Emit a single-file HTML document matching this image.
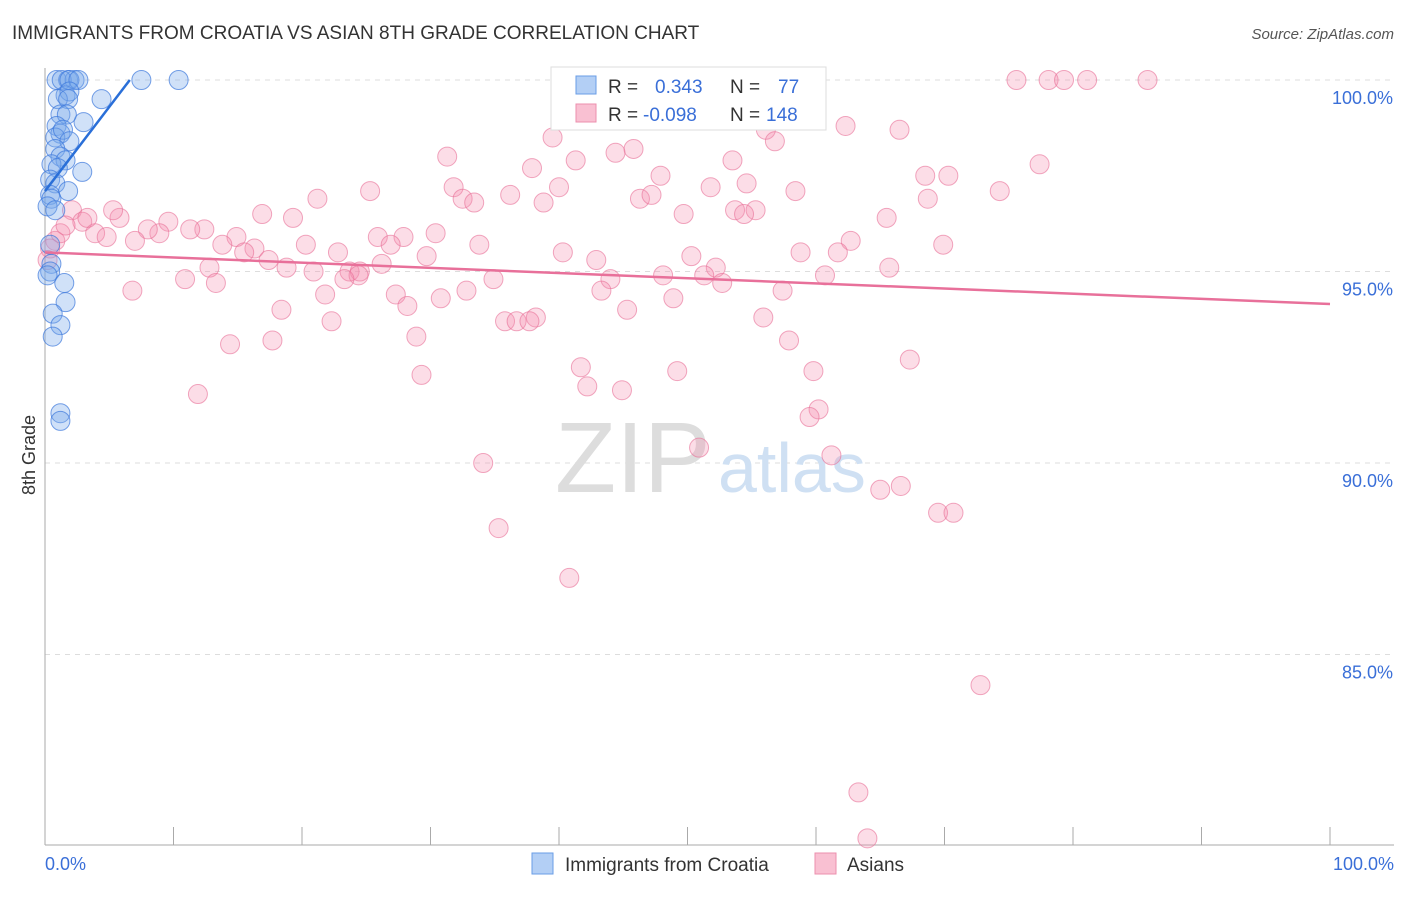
<!DOCTYPE html>
<html><head><meta charset="utf-8"><style>
body{margin:0;background:#fff;font-family:"Liberation Sans",sans-serif}
svg text{font-family:"Liberation Sans",sans-serif}
</style></head><body>
<svg id="c" width="1406" height="892">
<text x="12" y="39" font-size="19" fill="#333">IMMIGRANTS FROM CROATIA VS ASIAN 8TH GRADE CORRELATION CHART</text>
<text x="1394" y="39" font-size="15" fill="#555" font-style="italic" text-anchor="end">Source: ZipAtlas.com</text>
<g id="grid"></g>
<text x="555" y="492" font-size="100" fill="#ddd" font-family="Liberation Serif">ZIP</text>
<text x="718" y="492" font-size="70" fill="#cfe0f3">atlas</text>
<g id="pts"></g>
<text x="35" y="455" font-size="18" fill="#333" transform="rotate(-90 35 455)" text-anchor="middle">8th Grade</text>
<text x="45" y="870" font-size="18" fill="#3a6fd8">0.0%</text>
<text x="1394" y="870" font-size="18" fill="#3a6fd8" text-anchor="end">100.0%</text>
<g>
<rect x="551" y="67" width="275" height="63" fill="#fff" stroke="#ddd"/>
<rect x="576" y="76" width="20" height="18" fill="#b3cff5" stroke="#6a9de6"/>
<rect x="576" y="104" width="20" height="18" fill="#f9c0d2" stroke="#ec8fae"/>
<text x="608" y="93" font-size="19" fill="#333">R =</text><text x="655" y="93" font-size="19" fill="#3a6fd8">0.343</text>
<text x="730" y="93" font-size="19" fill="#333">N =</text><text x="778" y="93" font-size="19" fill="#3a6fd8">77</text>
<text x="608" y="121" font-size="19" fill="#333">R =</text><text x="643" y="121" font-size="19" fill="#3a6fd8">-0.098</text>
<text x="730" y="121" font-size="19" fill="#333">N =</text><text x="766" y="121" font-size="19" fill="#3a6fd8">148</text>
</g>
<g>
<rect x="532" y="853" width="21" height="21" fill="#b3cff5" stroke="#6a9de6"/>
<text x="565" y="871" font-size="19" fill="#333">Immigrants from Croatia</text>
<rect x="815" y="853" width="21" height="21" fill="#f9c0d2" stroke="#ec8fae"/>
<text x="847" y="871" font-size="19" fill="#333">Asians</text>
</g>
</svg>
<script>
const yTicks=[100,95,90,85];
const yTickLabels=["100.0%","95.0%","90.0%","85.0%"];
const blueX=[0.9,1.8,2.3,1.3,1.9,2.6,7.5,10.4,4.4,1.6,1.9,1.0,1.8,3.0,1.2,1.7,0.9,1.2,0.8,1.4,1.9,0.8,1.2,1.6,0.5,1.0,2.9,0.4,0.8,1.8,0.4,0.5,0.2,0.8,0.4,0.5,0.4,0.2,1.5,1.6,0.6,1.2,0.6,1.2,1.2];
const blueY=[100,100,100,100,100,100,100,100,99.5,99.6,99.7,99.5,99.5,98.9,99.1,99.1,98.8,98.6,98.5,98.7,98.4,98.2,98.0,97.9,97.8,97.7,97.6,97.4,97.3,97.1,97.0,96.9,96.7,96.6,95.7,95.2,95.0,94.9,94.7,94.2,93.9,93.6,93.3,91.3,91.1];
const pinkX=[75.6,78.1,79.3,81.1,85.8,39.5,31.3,41.3,44.4,45.8,37.9,53.5,56.1,56.8,62.3,66.5,77.4,47.9,68.5,70.3,54.6,40.0,31.8,51.8,58.4,74.3,25.3,36.2,46.3,47.2,32.5,33.4,38.8,21.2,49.7,53.7,55.3,54.4,68.7,65.5,16.9,19.3,5.8,9.6,12.4,11.3,8.9,8.0,7.0,25.9,27.9,30.4,14.9,13.8,20.3,26.9,33.8,62.7,69.9,16.3,15.5,22.8,40.3,50.3,58.8,61.7,17.4,29.7,42.9,26.2,12.8,18.8,20.9,23.7,24.5,24.4,52.2,51.3,65.7,48.1,60.7,10.9,13.3,34.9,44.0,52.7,23.3,6.8,21.8,27.3,32.8,43.3,57.4,30.8,48.9,28.2,18.4,45.3,22.3,35.8,36.7,38.2,37.7,55.9,14.4,17.7,28.9,57.9,67.3,41.7,49.2,59.8,29.3,42.2,44.9,11.9,60.2,59.5,50.9,61.2,34.1,65.0,66.6,69.5,70.7,35.3,40.8,72.8,63.3,64.0,0.8,1.2,2.1,2.9,3.9,4.8,5.3,0.4,1.6,3.3,0.2];
const pinkY=[100,100,100,100,100,98.5,98.0,97.9,98.1,98.2,97.7,97.9,98.7,98.4,98.8,98.7,97.8,97.5,97.5,97.5,97.3,97.2,97.2,97.2,97.1,97.1,97.1,97.0,96.9,97.0,96.9,96.8,96.8,96.9,96.5,96.6,96.6,96.5,96.9,96.4,96.5,96.4,96.4,96.3,96.1,96.1,96.0,96.1,95.8,95.9,95.9,96.0,95.9,95.7,95.7,95.7,95.7,95.8,95.7,95.6,95.5,95.5,95.5,95.4,95.5,95.5,95.3,95.4,95.3,95.2,95.1,95.1,95.0,95.0,95.0,94.9,95.1,94.9,95.1,94.9,94.9,94.8,94.7,94.8,94.8,94.7,94.8,94.5,94.4,94.4,94.5,94.5,94.5,94.3,94.3,94.1,94.0,94.0,93.7,93.7,93.7,93.8,93.7,93.8,93.1,93.2,93.3,93.2,92.7,92.5,92.4,92.4,92.3,92.0,91.9,91.8,91.4,91.2,90.4,90.2,90.0,89.3,89.4,88.7,88.7,88.3,87.0,84.2,81.4,80.2,95.8,96.0,96.6,96.3,96.0,95.9,96.6,95.6,96.2,96.4,95.3];
const blueTrend=[[0,97.1],[6.6,100]];
const pinkTrend=[[0,95.5],[100,94.15]];
const NS='http://www.w3.org/2000/svg';
const X0=45,X1=1330,Ytop=80,PerPct=38.3;
const xs=v=>X0+(X1-X0)*v/100;
const ys=v=>Ytop+(100-v)*PerPct;
function mk(t,a,p){const e=document.createElementNS(NS,t);for(const k in a)e.setAttribute(k,a[k]);p.appendChild(e);return e;}
const g=document.getElementById('grid');
yTicks.forEach((t,i)=>{
 const l=mk('line',{x1:X0,x2:1394,y1:ys(t),y2:ys(t),stroke:'#ddd','stroke-dasharray':'5,5'},g);
 
 
 const tx=mk('text',{x:1393,y:ys(t)+24,'font-size':18,fill:'#3a6fd8','text-anchor':'end'},g);
 tx.textContent=yTickLabels[i];
 
 
});
const ax=mk('line',{x1:X0,x2:X0,y1:68,y2:845,stroke:'#aaa'},g);


const bx=mk('line',{x1:X0,x2:1394,y1:845,y2:845,stroke:'#aaa'},g);


for(let i=0;i<=10;i++){const t=mk('line',{x1:xs(i*10),x2:xs(i*10),y1:827,y2:845,stroke:'#aaa'},g);
 
 }
const p=document.getElementById('pts');
pinkX.forEach((x,i)=>{const c=mk('circle',{cx:xs(x),cy:ys(pinkY[i]),r:9.5,fill:'rgba(244,143,177,0.3)',stroke:'rgba(232,110,150,0.6)'},p);
 
 });
blueX.forEach((x,i)=>{const c=mk('circle',{cx:xs(x),cy:ys(blueY[i]),r:9.5,fill:'rgba(120,170,235,0.35)',stroke:'rgba(60,120,220,0.7)'},p);
 
 });
const bt=mk('line',{x1:xs(blueTrend[0][0]),y1:ys(blueTrend[0][1]),x2:xs(blueTrend[1][0]),y2:ys(blueTrend[1][1]),stroke:'#2a6fd8','stroke-width':2.5},p);


const pt=mk('line',{x1:xs(pinkTrend[0][0]),y1:ys(pinkTrend[0][1]),x2:xs(pinkTrend[1][0]),y2:ys(pinkTrend[1][1]),stroke:'#e8709a','stroke-width':2.5},p);


</script>
</body></html>
